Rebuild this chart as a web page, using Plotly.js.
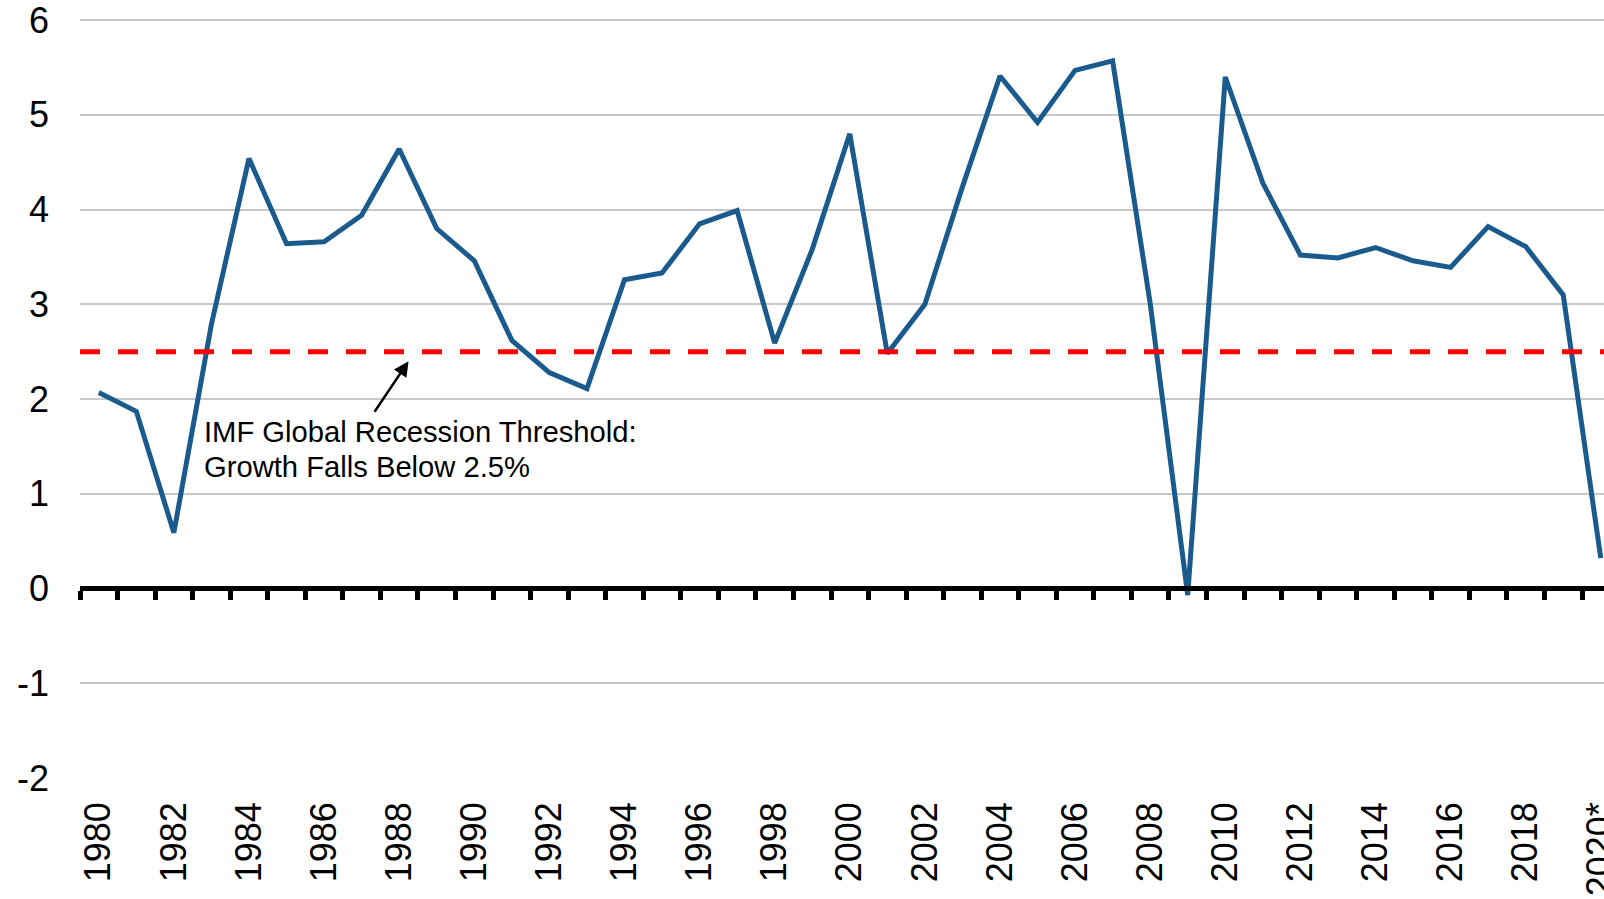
<!DOCTYPE html>
<html>
<head>
<meta charset="utf-8">
<script src="https://cdn.plot.ly/plotly-3.0.1.min.js"></script>
<style>html,body{margin:0;padding:0;background:#fff;}#chart{width:1604px;height:899px;}</style>
</head>
<body>
<div id="chart"></div>
<script>
// Categories (years)
const years = ["1980","1981","1982","1983","1984","1985","1986","1987","1988","1989",
  "1990","1991","1992","1993","1994","1995","1996","1997","1998","1999",
  "2000","2001","2002","2003","2004","2005","2006","2007","2008","2009",
  "2010","2011","2012","2013","2014","2015","2016","2017","2018","2019","2020*"];

// World real GDP growth (%)
const growth = [2.07, 1.87, 0.59, 2.79, 4.54, 3.64, 3.66, 3.94, 4.64, 3.80,
  3.46, 2.62, 2.28, 2.11, 3.26, 3.33, 3.85, 3.99, 2.59, 3.58,
  4.80, 2.48, 3.00, 4.24, 5.41, 4.92, 5.47, 5.57, 3.01, -0.07,
  5.40, 4.28, 3.52, 3.49, 3.60, 3.46, 3.39, 3.82, 3.61, 3.10, 0.32];

// Recession threshold
const threshold = 2.5;

// Tick labels
const xTickVals = years.filter((y, i) => i % 2 === 0);
const yTickVals = [-2, -1, 0, 1, 2, 3, 4, 5, 6];
const yTickText = ["-2", "-1", "0", "1", "2", "3", "4", "5", "6"];

const annotationLines = ["IMF Global Recession Threshold:", "Growth Falls Below 2.5%"];

const FONT = "Liberation Sans, Arial, sans-serif";
const xRange = [-0.5, 40.086];
const yRange = [-2, 6.012];

const traces = [
  {
    x: years, y: growth, type: "scatter", mode: "none",
    xaxis: "x2", yaxis: "y", hoverinfo: "skip", showlegend: false
  },
  {
    x: years, y: growth, type: "scatter", mode: "lines",
    line: {color: "#1b5a8c", width: 5}, xaxis: "x", yaxis: "y",
    showlegend: false
  }
];

const layout = {
  width: 1604, height: 899,
  margin: {l: 80, r: 0, t: 19, b: 121},
  paper_bgcolor: "#ffffff", plot_bgcolor: "#ffffff",
  font: {family: FONT, color: "#000000"},
  showlegend: false,
  xaxis: {
    type: "category", categoryorder: "array", categoryarray: years,
    range: xRange,
    tickmode: "array", tickvals: xTickVals, ticktext: xTickVals,
    tickangle: -90, ticks: "", showgrid: false, showline: false, zeroline: false,
    tickfont: {family: FONT, size: 36, color: "#000"},
    ticklabelstandoff: 16, ticklabeloverflow: "allow"
  },
  xaxis2: {
    type: "category", categoryorder: "array", categoryarray: years,
    range: xRange, overlaying: "x", anchor: "free", position: 0.2497, side: "bottom",
    tickmode: "linear", tick0: 0, dtick: 1, tickson: "boundaries",
    ticks: "outside", ticklen: 9, tickwidth: 5, tickcolor: "#000",
    showticklabels: false, showgrid: false, zeroline: false,
    showline: true, linecolor: "#000", linewidth: 5
  },
  yaxis: {
    range: yRange, tickmode: "array", tickvals: yTickVals, ticktext: yTickText,
    ticks: "", showline: false, zeroline: false,
    showgrid: true, gridcolor: "#c8c8c8", gridwidth: 2,
    tickfont: {family: FONT, size: 36, color: "#000"},
    ticklabelstandoff: 30, ticklabeloverflow: "allow"
  },
  shapes: [
    {
      type: "line", xref: "paper", x0: 0, x1: 1, yref: "y", y0: threshold, y1: threshold,
      line: {color: "#ff0000", width: 5, dash: "20px,18px"}, layer: "above"
    }
  ],
  annotations: [
    {
      xref: "x", yref: "y", x: 8.25, y: threshold - 0.1,
      axref: "pixel", ayref: "pixel", ax: -35, ay: 52,
      text: "", showarrow: true, arrowhead: 2, arrowsize: 1.2, arrowwidth: 2.5,
      arrowcolor: "#000", startstandoff: 0, standoff: 0
    },
    {
      xref: "x", yref: "y", x: 2.75, y: 1.84,
      xanchor: "left", yanchor: "top", align: "left",
      text: annotationLines[0], showarrow: false,
      font: {family: FONT, size: 29.2, color: "#000"}
    },
    {
      xref: "x", yref: "y", x: 2.75, y: 1.47,
      xanchor: "left", yanchor: "top", align: "left",
      text: annotationLines[1], showarrow: false,
      font: {family: FONT, size: 29.2, color: "#000"}
    }
  ]
};

Plotly.newPlot("chart", traces, layout, {displayModeBar: false, staticPlot: true});
</script>
</body>
</html>
